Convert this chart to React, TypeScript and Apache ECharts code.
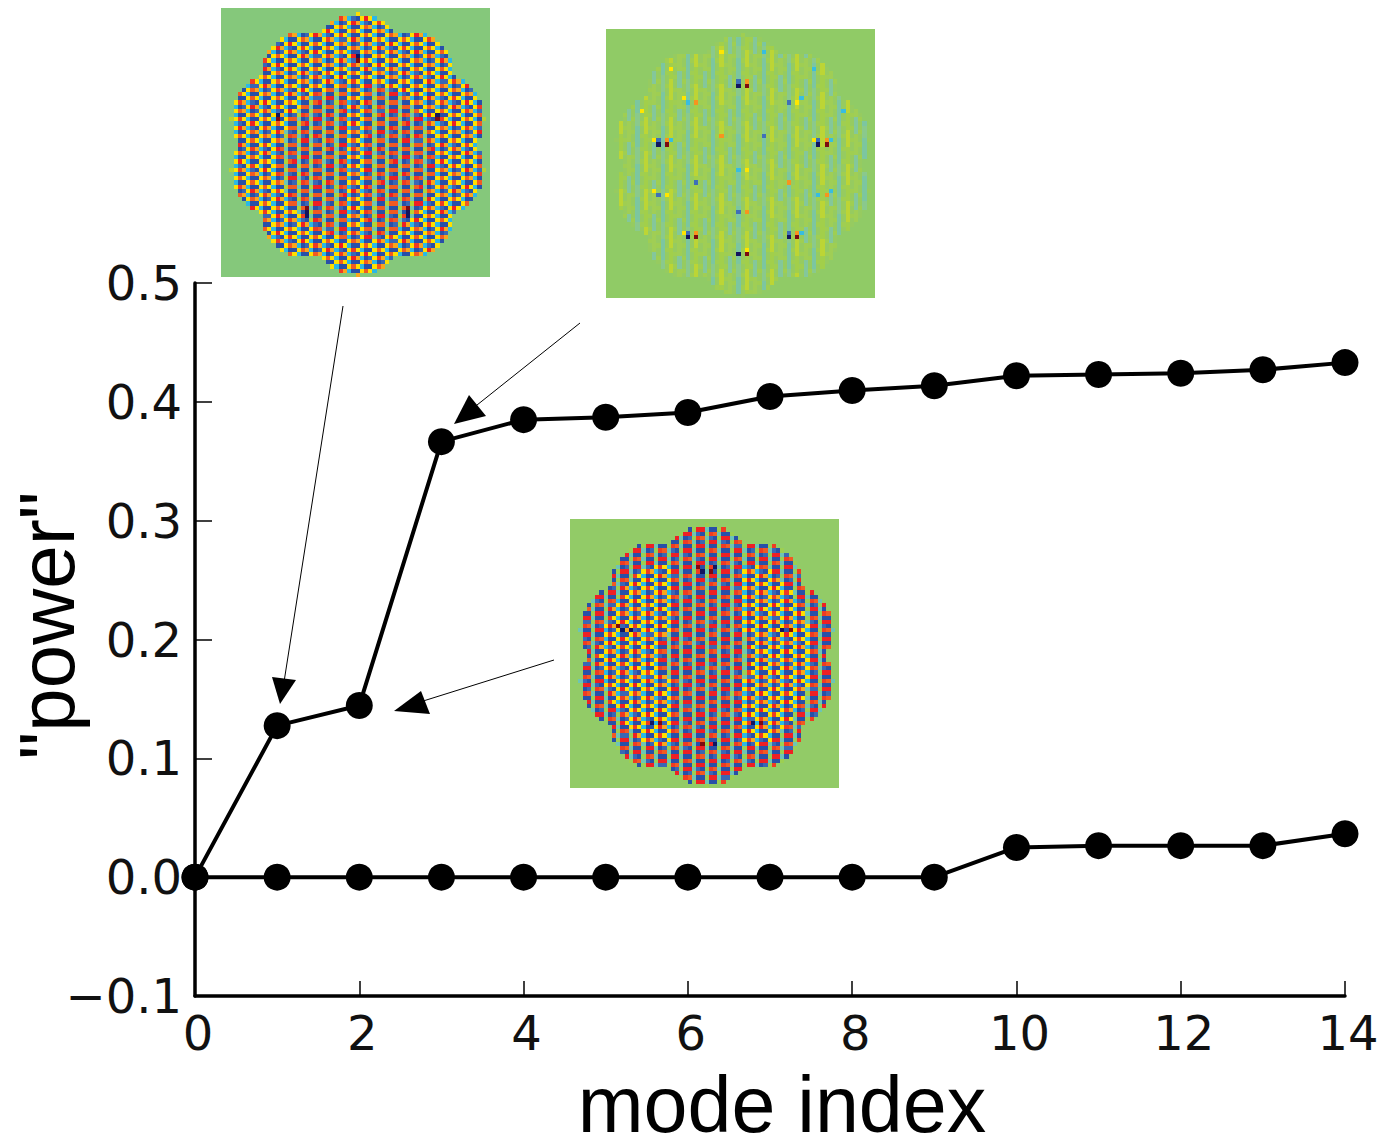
import React, { useEffect, useRef } from "react";
import * as echarts from "echarts";

const modeIndex = [0, 1, 2, 3, 4, 5, 6, 7, 8, 9, 10, 11, 12, 13, 14];
const upperPower = [0, 0.1275, 0.1445, 0.3665, 0.385, 0.387, 0.391, 0.4045, 0.4095, 0.4135, 0.422, 0.423, 0.424, 0.427, 0.433];
const lowerPower = [0, 0, 0, 0, 0, 0, 0, 0, 0, 0, 0.025, 0.0265, 0.0265, 0.0265, 0.0365];
const xTicks = { min: 0, max: 14, interval: 2 };
const yTicks = { min: -0.1, max: 0.5, interval: 0.1 };

// half-width of the scalloped disc, by distance in rows from the centre row
const discHalfWidths = [28, 28, 29, 29, 29, 29, 30, 29, 29, 29, 29, 28, 28, 27, 26, 25, 23, 22, 22, 22, 22, 21, 21, 20, 19, 18, 16, 8, 7, 6, 4, 0];

const NAVY = "#13155e", MAROON = "#7c0a10", BLUE = "#3f6fb8", ORANGE = "#f7941e", YELLOW = "#ffe600", CYAN = "#38bde0";
type Spot = [number, number, string];
const spotsA: Spot[] = [[32, 11, NAVY], [32, 12, MAROON], [13, 25, NAVY], [13, 26, MAROON], [51, 25, NAVY], [51, 26, MAROON], [20, 47, MAROON], [20, 48, NAVY], [20, 49, NAVY], [44, 47, MAROON], [44, 48, NAVY], [44, 49, NAVY]];
const spotsB: Spot[] = [
  [31, 12, BLUE], [33, 12, ORANGE], [31, 13, NAVY], [33, 13, MAROON],
  [12, 26, BLUE], [14, 26, ORANGE], [15, 26, CYAN], [11, 26, YELLOW], [12, 27, NAVY], [14, 27, MAROON],
  [50, 26, BLUE], [52, 26, ORANGE], [53, 26, CYAN], [49, 26, YELLOW], [50, 27, NAVY], [52, 27, MAROON],
  [19, 48, BLUE], [21, 48, ORANGE], [18, 48, YELLOW], [19, 49, NAVY], [21, 49, MAROON],
  [43, 48, BLUE], [45, 48, ORANGE], [46, 48, CYAN], [43, 49, NAVY], [45, 49, MAROON],
  [33, 52, YELLOW], [31, 53, NAVY], [33, 53, MAROON],
  [15, 9, YELLOW], [27, 5, YELLOW], [37, 5, CYAN], [49, 9, CYAN], [8, 19, YELLOW], [56, 19, CYAN],
  [18, 16, YELLOW], [19, 17, CYAN], [21, 17, ORANGE], [43, 17, BLUE], [45, 17, YELLOW], [46, 16, CYAN],
  [27, 25, ORANGE], [37, 25, BLUE], [21, 36, BLUE], [43, 36, ORANGE],
  [11, 38, YELLOW], [12, 39, BLUE], [14, 39, YELLOW], [50, 39, CYAN], [52, 39, ORANGE], [53, 38, CYAN],
  [31, 43, BLUE], [33, 43, ORANGE], [31, 33, CYAN], [33, 33, YELLOW],
];
const spotsC: Spot[] = [[12, 26, NAVY], [14, 26, NAVY], [11, 25, MAROON], [50, 26, NAVY], [52, 26, MAROON], [19, 48, NAVY], [21, 48, MAROON], [43, 48, NAVY], [45, 48, MAROON], [31, 12, NAVY], [30, 11, MAROON], [34, 11, NAVY], [33, 12, MAROON], [31, 53, MAROON], [34, 53, NAVY]];

const REDS = ["#ee2024", "#f15a22", "#ef3b23", "#ee2024"];

function paintInset(bg: string, mode: "a" | "b" | "c", spots: Spot[]) {
  const cv = document.createElement("canvas");
  const cell = 269 / 64;
  cv.width = 269;
  cv.height = 269;
  const g = cv.getContext("2d")!;
  g.fillStyle = bg;
  g.fillRect(0, 0, 269, 269);
  const paint = (k: number, r: number, c: string) => {
    g.fillStyle = c;
    const x0 = Math.round(k * cell), y0 = Math.round(r * cell);
    g.fillRect(x0, y0, Math.round((k + 1) * cell) - x0, Math.round((r + 1) * cell) - y0);
  };
  for (let r = 0; r < 64; r++) {
    const d = Math.abs(r - 32);
    if (d > 31) continue;
    const hw = discHalfWidths[d];
    for (let k = 32 - hw; k <= 32 + hw; k++) {
      const dx = k - 32, dy = r - 32;
      const rad = Math.sqrt(dx * dx + dy * dy) / 30;
      let c: string;
      if (mode === "b") {
        const m = ((k - 31) % 6 + 6) % 6;
        const bar = 0.5 + 0.5 * Math.cos(r * 0.72 + k);
        if (m === 0) c = bar > 0.3 ? "#7cc6a0" : "#8ac98c";
        else if (m === 2) c = bar > 0.45 ? "#bcd535" : "#a2cf4a";
        else if (m === 4) c = bar > 0.6 ? "#84c79a" : "#a0ce55";
        else c = (r + k) % 3 === 0 ? "#9fce52" : "#96cb60";
      } else {
        const shift = mode === "a" ? 0 : 2;
        const q = k - shift + 300;
        const col = q % 3;
        const sign = (r + Math.floor(q / 3)) % 2 === 0 ? 1 : -1;
        const wob = Math.cos(r * 1.9 + k * 1.3);
        const warm = REDS[(r * 5 + k * 3 + 400) % 4];
        const radA = Math.sqrt(dx * dx + (dy - 4) * (dy - 4)) / 30;
        const calm = radA < 0.62 && Math.abs(dx) > 2;
        const ring = rad > 0.36 && rad < 0.84 && Math.abs(dx) > 8 && Math.abs(dy) < 22;
        const lively = mode === "a" ? !calm : ring;
        if (col === 0) {
          // the narrow column between the wide blocks
          if (lively) c = sign > 0 ? "#2bb8e6" : "#ffe000";
          else c = sign > 0 ? "#6dc5b5" : mode === "a" ? "#b5d334" : "#9ccf52";
        } else if (sign > 0) {
          c = wob > 0.72 ? "#3a67b4" : "#2850a8";
        } else if (lively && col === 2) {
          c = wob > 0 ? "#ffde00" : "#f9a61b";
        } else {
          c = mode === "a" ? (wob > 0 ? "#f15a22" : warm) : warm;
        }
        if (mode === "a" && d === 6 && Math.abs(dx) === hw) c = "#b5d334";
      }
      paint(k, r, c);
    }
  }
  spots.forEach(([k, r, c]) => paint(k, r, c));
  return cv.toDataURL("image/png");
}

const insetImage = (src: string, x: number, y: number) => ({ type: "image", x, y, z: 5, style: { image: src, x: 0, y: 0, width: 269, height: 269 } });
const leader = (x1: number, y1: number, x2: number, y2: number) => ({ type: "line", z: 6, shape: { x1, y1, x2, y2 }, style: { stroke: "#000", lineWidth: 1 } });
const head = (points: number[][]) => ({ type: "polygon", z: 6, shape: { points }, style: { fill: "#000" } });

export default function App() {
  const ref = useRef<HTMLDivElement>(null);
  useEffect(() => {
    const chart = echarts.init(ref.current!, undefined, { renderer: "svg" });
    const tickFont = { fontFamily: "DejaVu Sans", fontSize: 48, color: "#111" };
    const seriesBase = {
      type: "line", symbol: "circle", symbolSize: 27, clip: false, z: 3,
      lineStyle: { color: "#000", width: 4 }, itemStyle: { color: "#000" },
    };
    chart.setOption({
      animation: false,
      backgroundColor: "#fff",
      grid: { left: 195, right: 40, top: 283, bottom: 142, outerBoundsMode: "none", containLabel: false },
      xAxis: {
        type: "value", ...xTicks,
        name: "mode index", nameLocation: "middle", nameGap: 78,
        nameTextStyle: { fontFamily: "Liberation Sans", fontSize: 79, lineHeight: 60, color: "#000", padding: [0, 0, 0, 24] },
        axisLine: { onZero: false, lineStyle: { color: "#000", width: 3.5 } },
        axisTick: { inside: true, length: 15, lineStyle: { color: "#000", width: 1.5 } },
        axisLabel: { ...tickFont, margin: 13, padding: [0, 0, 0, 6], showMinLabel: true, showMaxLabel: true },
        splitLine: { show: false },
      },
      yAxis: {
        type: "value", ...yTicks,
        name: '"power"', nameLocation: "middle", nameGap: 113, nameRotate: 90, nameMoveOverlap: false,
        nameTextStyle: { fontFamily: "Liberation Sans", fontSize: 78, lineHeight: 70, color: "#000", padding: [0, 0, 0, 28] },
        axisLine: { onZero: false, lineStyle: { color: "#000", width: 3.5 } },
        axisTick: { inside: true, length: 17, lineStyle: { color: "#000", width: 1.5 } },
        axisLabel: {
          ...tickFont, margin: 13,
          formatter: (v: number) => (v < 0 ? "\u2212" + Math.abs(v).toFixed(1) : v.toFixed(1)),
        },
        splitLine: { show: false },
      },
      series: [
        { ...seriesBase, name: "upper", data: modeIndex.map((m, i) => [m, upperPower[i]]) },
        { ...seriesBase, name: "lower", data: modeIndex.map((m, i) => [m, lowerPower[i]]) },
      ],
      graphic: [
        insetImage(paintInset("#85c87b", "a", spotsA), 221, 8),
        insetImage(paintInset("#90cb66", "b", spotsB), 606, 29),
        insetImage(paintInset("#92cb67", "c", spotsC), 570, 519),
        leader(343, 306, 284, 682),
        head([[280, 704], [272, 677], [296, 680]]),
        leader(580, 323, 472, 409),
        head([[454, 424], [469, 395], [486, 416]]),
        leader(554, 660, 420, 702),
        head([[394, 711], [421, 691], [430, 714]]),
      ],
    });
    return () => chart.dispose();
  }, []);
  return <div ref={ref} style={{ position: "fixed", left: 0, top: 0, width: 1385, height: 1138 }} />;
}
